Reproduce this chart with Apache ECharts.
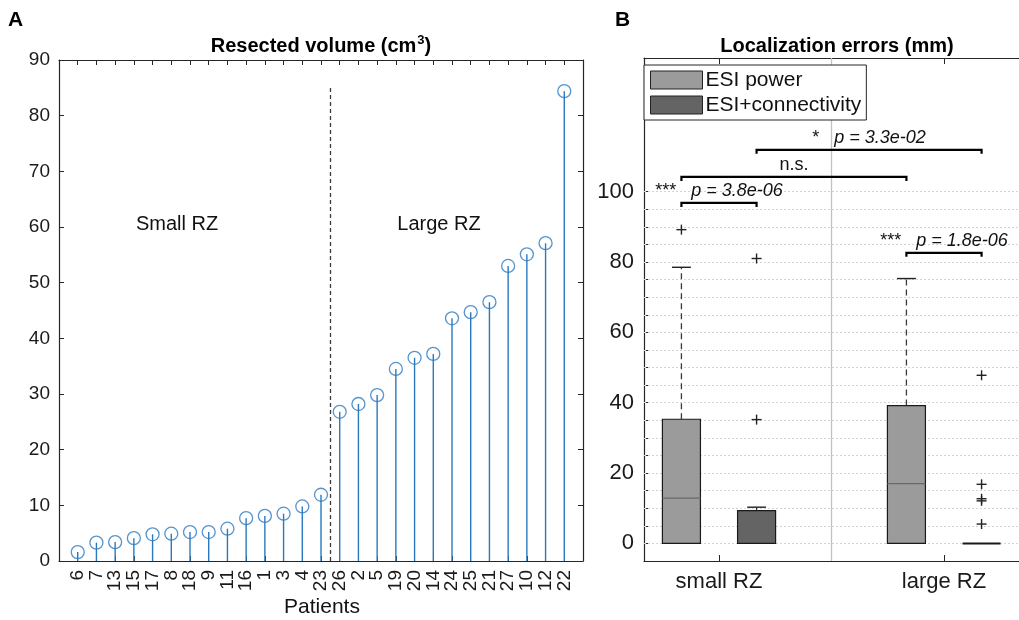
<!DOCTYPE html>
<html>
<head>
<meta charset="utf-8">
<script src="https://cdn.jsdelivr.net/npm/echarts@6/dist/echarts.min.js"></script>
<style>
  html, body { margin: 0; padding: 0; background: #fff; }
  #chart { width: 1019px; height: 620px; }
</style>
</head>
<body>
<div id="chart"></div>
<script>
// panel A: resected volume per patient, sorted
const patients = ['6','7','13','15','17','8','18','9','11','16','1','3','4','23','26','2','5','19','20','14','24','25','21','27','10','12','22'];
const volumes = [1.6, 3.3, 3.4, 4.1, 4.8, 4.9, 5.2, 5.2, 5.8, 7.7, 8.1, 8.5, 9.8, 11.9, 26.8, 28.2, 29.8, 34.5, 36.5, 37.2, 43.6, 44.7, 46.5, 53.0, 55.1, 57.1, 84.4];
const splitAfter = 14; // patients 1..14 small RZ, rest large RZ

// panel B: localization errors (mm)
const groups = ['small RZ', 'large RZ'];
const methods = ['ESI power', 'ESI+connectivity'];
const methodColors = ['#9b9b9b', '#646464'];
// [lower whisker, q1, median, q3, upper whisker] per group
const powerStats = [[0, 0, 12.9, 35.3, 78.5], [0, 0, 17.0, 39.2, 75.3]];
const connStats = [[0, 0, 0, 9.3, 10.3], [0, 0, 0, 0, 0]];
const powerOutliers = [[89.2], []];
const connOutliers = [[81.0, 35.2], [47.8, 16.8, 12.7, 12.1, 5.5]];
const errTicks = [0, 20, 40, 60, 80, 100];
// significance brackets: [group, method] -> [group, method]
const bracketFrom = [[0, 0], [0, 0], [0, 1], [1, 0]];
const bracketTo = [[0, 1], [1, 0], [1, 1], [1, 1]];
const bracketY = [96.8, 104.2, 111.9, 82.6];
const bracketStars = ['***', '', '*', '***'];
const bracketText = ['p = 3.8e-06', 'n.s.', 'p = 3.3e-02', 'p = 1.8e-06'];

const FONT = 'Liberation Sans, Arial, Helvetica, sans-serif';
const blue = '#2a79bf';
const axisCol = '#262626';

const minorTicks = [];
for (let v = 0; v <= 100; v += 5) minorTicks.push(v);

const boxOffset = 0.167, boxHalf = 0.0845, capHalf = 0.042;
const xPos = (g, m) => g + 1 + (m === 0 ? -boxOffset : boxOffset);

const boxData = (stats, m) => stats.map((s, g) => [xPos(g, m)].concat(s));
const outlierData = [];
powerOutliers.forEach((arr, g) => arr.forEach(v => outlierData.push([xPos(g, 0), v])));
connOutliers.forEach((arr, g) => arr.forEach(v => outlierData.push([xPos(g, 1), v])));
const bracketData = bracketY.map((y, i) => [
  xPos(bracketFrom[i][0], bracketFrom[i][1]),
  xPos(bracketTo[i][0], bracketTo[i][1]),
  y, i
]);

function renderBox(params, api) {
  const x = api.value(0);
  const q1 = api.value(2), med = api.value(3), q3 = api.value(4), hi = api.value(5);
  const tl = api.coord([x - boxHalf, q3]);
  const br = api.coord([x + boxHalf, q1]);
  const children = [];
  if (hi > q3) {
    const a = api.coord([x, q3]), b = api.coord([x, hi]);
    children.push({ type: 'line', shape: { x1: a[0], y1: a[1], x2: b[0], y2: b[1] },
      style: { stroke: '#3a3a3a', lineWidth: 1.3, lineDash: [6, 4] } });
    const c1 = api.coord([x - capHalf, hi]), c2 = api.coord([x + capHalf, hi]);
    children.push({ type: 'line', shape: { x1: c1[0], y1: c1[1], x2: c2[0], y2: c2[1] },
      style: { stroke: '#222', lineWidth: 1.4 } });
  }
  children.push({ type: 'rect', shape: { x: tl[0], y: tl[1], width: br[0] - tl[0], height: br[1] - tl[1] },
    style: { fill: api.visual('color'), stroke: '#1a1a1a', lineWidth: q3 > q1 ? 1.2 : 2 } });
  if (med > q1 && med < q3) {
    const m1 = api.coord([x - boxHalf, med]), m2 = api.coord([x + boxHalf, med]);
    children.push({ type: 'line', shape: { x1: m1[0], y1: m1[1], x2: m2[0], y2: m2[1] },
      style: { stroke: '#6a6a6a', lineWidth: 1.2 } });
  }
  return { type: 'group', children };
}

const chart = echarts.init(document.getElementById('chart'));

chart.setOption({
  animation: false,
  backgroundColor: '#fff',
  grid: [
    { left: 59, right: 436, top: 60, bottom: 59 },
    { left: 644, right: -10, top: 58, bottom: 59 }
  ],
  xAxis: [
    {
      gridIndex: 0, type: 'value', min: 0, max: 28, interval: 1, position: 'bottom',
      axisLine: { onZero: false, lineStyle: { color: axisCol, width: 1.2 } },
      axisTick: { inside: true, length: 5, lineStyle: { color: axisCol } },
      axisLabel: { rotate: 90, margin: 9, fontSize: 19, fontFamily: FONT, color: '#1a1a1a',
        formatter: v => patients[v - 1] || '' },
      splitLine: { show: false }
    },
    {
      gridIndex: 0, type: 'value', min: 0, max: 28, interval: 1, position: 'top',
      axisLine: { onZero: false, lineStyle: { color: axisCol, width: 1.2 } },
      axisTick: { inside: true, length: 5, lineStyle: { color: axisCol } },
      axisLabel: { show: false }, splitLine: { show: false }
    },
    {
      gridIndex: 1, type: 'value', min: 2 / 3, max: 7 / 3, position: 'bottom',
      axisLine: { onZero: false, lineStyle: { color: axisCol, width: 1.2 } },
      axisTick: { inside: true, length: 6, customValues: [1, 2], lineStyle: { color: axisCol } },
      axisLabel: { customValues: [1, 2], margin: 10, fontSize: 22, fontFamily: FONT, color: '#1a1a1a',
        formatter: v => groups[Math.round(v) - 1] },
      splitLine: { show: false }
    },
    {
      gridIndex: 1, type: 'value', min: 2 / 3, max: 7 / 3, position: 'top',
      axisLine: { onZero: false, lineStyle: { color: axisCol, width: 1.2 } },
      axisTick: { inside: true, length: 6, customValues: [1, 2], lineStyle: { color: axisCol } },
      axisLabel: { show: false }, splitLine: { show: false }
    }
  ],
  yAxis: [
    {
      gridIndex: 0, type: 'value', min: 0, max: 90, interval: 10, position: 'left',
      axisLine: { show: true, onZero: false, lineStyle: { color: axisCol, width: 1.2 } },
      axisTick: { show: true, inside: true, length: 5, lineStyle: { color: axisCol } },
      axisLabel: { margin: 9, fontSize: 19, fontFamily: FONT, color: '#1a1a1a' },
      splitLine: { show: false }
    },
    {
      gridIndex: 0, type: 'value', min: 0, max: 90, interval: 10, position: 'right',
      axisLine: { show: true, onZero: false, lineStyle: { color: axisCol, width: 1.2 } },
      axisTick: { show: true, inside: true, length: 5, lineStyle: { color: axisCol } },
      axisLabel: { show: false }, splitLine: { show: false }
    },
    {
      gridIndex: 1, type: 'value', min: -5, max: 138, position: 'left',
      axisLine: { show: true, onZero: false, lineStyle: { color: axisCol, width: 1.2 } },
      axisTick: { show: true, inside: true, length: 5, customValues: minorTicks, lineStyle: { color: axisCol } },
      axisLabel: { customValues: errTicks, margin: 10, fontSize: 22, fontFamily: FONT, color: '#1a1a1a' },
      splitLine: { show: false }
    }
  ],
  legend: {
    data: methods,
    orient: 'vertical',
    left: 644, top: 65,
    icon: 'rect',
    itemWidth: 52, itemHeight: 18, itemGap: 1,
    padding: [3, 5, 3, 6],
    backgroundColor: '#fff',
    borderColor: axisCol, borderWidth: 1, borderRadius: 0,
    itemStyle: { borderColor: '#222', borderWidth: 1 },
    textStyle: { fontSize: 21, fontFamily: FONT, color: '#111', lineHeight: 24, padding: [0, 0, 0, -2] }
  },
  graphic: [
    { type: 'text', left: 8, top: 10, style: { text: 'A', font: 'bold 21px ' + FONT, fill: '#000' } },
    { type: 'text', left: 615, top: 10, style: { text: 'B', font: 'bold 21px ' + FONT, fill: '#000' } },
    { type: 'text', x: 321, y: 46, style: {
        text: '{a|Resected volume (cm}{s|3}{a|)}', align: 'center', verticalAlign: 'middle',
        rich: {
          a: { fontSize: 20, fontWeight: 'bold', fontFamily: FONT, color: '#000', lineHeight: 24 },
          s: { fontSize: 13, fontWeight: 'bold', fontFamily: FONT, color: '#000', verticalAlign: 'top', lineHeight: 24, padding: [0, 0, 10, 1] }
        } } },
    { type: 'text', x: 837, y: 46, style: { text: 'Localization errors (mm)', align: 'center', verticalAlign: 'middle',
        font: 'bold 20px ' + FONT, fill: '#000' } },
    { type: 'text', x: 177, y: 224, style: { text: 'Small RZ', align: 'center', verticalAlign: 'middle',
        font: '20px ' + FONT, fill: '#111' } },
    { type: 'text', x: 439, y: 224, style: { text: 'Large RZ', align: 'center', verticalAlign: 'middle',
        font: '20px ' + FONT, fill: '#111' } },
    { type: 'text', x: 322, y: 607, style: { text: 'Patients', align: 'center', verticalAlign: 'middle',
        font: '21px ' + FONT, fill: '#111' } }
  ],
  series: [
    {
      name: 'stems', type: 'custom', xAxisIndex: 0, yAxisIndex: 0, silent: true,
      data: volumes.map((v, i) => [i + 1, v]),
      renderItem: (params, api) => {
        const p0 = api.coord([api.value(0), 0]);
        const p1 = api.coord([api.value(0), api.value(1)]);
        return { type: 'line', shape: { x1: p0[0], y1: p0[1], x2: p1[0], y2: p1[1] },
          style: { stroke: blue, lineWidth: 1.4 } };
      },
      markLine: {
        silent: true, symbol: 'none', label: { show: false },
        lineStyle: { color: '#3a3a3a', type: [4, 3], width: 1.3 },
        data: [[{ coord: [splitAfter + 0.5, 0] }, { coord: [splitAfter + 0.5, 85.5] }]]
      }
    },
    {
      name: 'heads', type: 'scatter', xAxisIndex: 0, yAxisIndex: 0, silent: true,
      data: volumes.map((v, i) => [i + 1, v]),
      symbol: 'circle', symbolSize: 13,
      itemStyle: { color: 'rgba(0,0,0,0)', borderColor: blue, borderWidth: 1.3 }
    },
    {
      name: 'grid', type: 'custom', xAxisIndex: 2, yAxisIndex: 2, silent: true, z: 1,
      data: [], renderItem: () => null,
      markLine: {
        silent: true, symbol: 'none', label: { show: false }, z: 1,
        lineStyle: { color: '#d4d4d4', type: [2, 2], width: 1 },
        data: minorTicks.map(v => ({ yAxis: v }))
      }
    },
    {
      name: 'separator', type: 'custom', xAxisIndex: 2, yAxisIndex: 2, silent: true, z: 1,
      data: [], renderItem: () => null,
      markLine: {
        silent: true, symbol: 'none', label: { show: false }, z: 1,
        lineStyle: { color: '#c2c2c2', type: 'solid', width: 1.3 },
        data: [{ xAxis: 1.5 }]
      }
    },
    {
      name: methods[0], type: 'custom', xAxisIndex: 2, yAxisIndex: 2, z: 3,
      itemStyle: { color: methodColors[0], borderColor: '#1a1a1a', borderWidth: 1 },
      data: boxData(powerStats, 0), renderItem: renderBox
    },
    {
      name: methods[1], type: 'custom', xAxisIndex: 2, yAxisIndex: 2, z: 3,
      itemStyle: { color: methodColors[1], borderColor: '#1a1a1a', borderWidth: 1 },
      data: boxData(connStats, 1), renderItem: renderBox
    },
    {
      name: 'outliers', type: 'custom', xAxisIndex: 2, yAxisIndex: 2, z: 3, silent: true,
      data: outlierData,
      renderItem: (params, api) => {
        const p = api.coord([api.value(0), api.value(1)]);
        const h = 5;
        return { type: 'group', children: [
          { type: 'line', shape: { x1: p[0] - h, y1: p[1], x2: p[0] + h, y2: p[1] }, style: { stroke: '#222', lineWidth: 1.4 } },
          { type: 'line', shape: { x1: p[0], y1: p[1] - h, x2: p[0], y2: p[1] + h }, style: { stroke: '#222', lineWidth: 1.4 } }
        ] };
      }
    },
    {
      name: 'brackets', type: 'custom', xAxisIndex: 2, yAxisIndex: 2, z: 3, silent: true,
      data: bracketData,
      renderItem: (params, api) => {
        const a = api.coord([api.value(0), api.value(2)]);
        const b = api.coord([api.value(1), api.value(2)]);
        const i = api.value(3);
        const stars = bracketStars[i];
        const txt = stars ? stars + '   {i|' + bracketText[i] + '}' : bracketText[i];
        return { type: 'group', children: [
          { type: 'polyline', shape: { points: [[a[0], a[1] + 4], [a[0], a[1]], [b[0], b[1]], [b[0], b[1] + 4]] },
            style: { stroke: '#000', lineWidth: 2.2, fill: null } },
          { type: 'text', x: (a[0] + b[0]) / 2, y: a[1] - 3,
            style: { text: txt, align: 'center', verticalAlign: 'bottom', font: '18px ' + FONT, fill: '#111',
              rich: { i: { fontStyle: 'italic', fontSize: 18, fontFamily: FONT, color: '#111' } } } }
        ] };
      }
    }
  ]
});
</script>
</body>
</html>
